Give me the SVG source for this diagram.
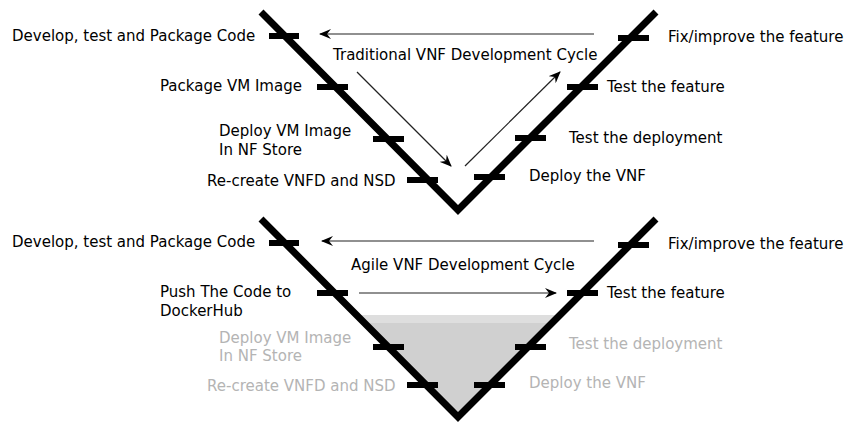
<svg xmlns="http://www.w3.org/2000/svg" width="845" height="422" viewBox="0 0 845 422">
<defs>
<marker id="ah" viewBox="0 0 12 10" refX="11" refY="5" markerWidth="12" markerHeight="10" markerUnits="userSpaceOnUse" orient="auto">
<path d="M0,0 L12,5 L0,10 L4,5 Z" fill="#000"/>
</marker>
<style>
text{font-family:"DejaVu Sans",Verdana,sans-serif;font-size:15px;fill:#000}
.g{fill:#b4b4b4}
.v{fill:none;stroke:#000;stroke-width:7;stroke-linejoin:miter}
.t{stroke:#000;stroke-width:6;fill:none}
.a{stroke:#222;stroke-width:1.2;fill:none;marker-end:url(#ah)}
</style>
</defs>
<rect width="845" height="422" fill="#fff"/>
<g id="shade">
<polygon points="358,315 560,315 458,417" fill="#d0d0d0"/>
<polygon points="358,315 560,315 552,323 366,323" fill="#dedede"/>
</g>
<g id="traditional">
<polyline class="v" points="261,12 458,210 656,12"/>
<g class="t">
<line x1="269" y1="36" x2="299" y2="36"/>
<line x1="317" y1="87" x2="348" y2="87"/>
<line x1="373" y1="139" x2="404" y2="139"/>
<line x1="407" y1="180" x2="438" y2="180"/>
<line x1="618" y1="38" x2="649" y2="38"/>
<line x1="567" y1="87" x2="598" y2="87"/>
<line x1="515" y1="138" x2="546" y2="138"/>
<line x1="474" y1="177" x2="505" y2="177"/>
</g>
</g>
<g id="agile">
<polyline class="v" points="261,219 458,417 656,219"/>
<g class="t">
<line x1="269" y1="243" x2="299" y2="243"/>
<line x1="317" y1="293" x2="348" y2="293"/>
<line x1="373" y1="347" x2="404" y2="347"/>
<line x1="407" y1="385" x2="438" y2="385"/>
<line x1="618" y1="245" x2="649" y2="245"/>
<line x1="567" y1="293" x2="598" y2="293"/>
<line x1="515" y1="347" x2="546" y2="347"/>
<line x1="474" y1="385" x2="505" y2="385"/>
</g>
</g>
<g id="connectors">
<line class="a" x1="594" y1="34" x2="320" y2="34"/>
<line class="a" x1="357" y1="72" x2="451" y2="166"/>
<line class="a" x1="465" y1="166" x2="560" y2="72"/>
<line class="a" x1="594" y1="241" x2="322" y2="241"/>
<line class="a" x1="359" y1="293" x2="556" y2="293"/>
</g>
<g id="labels-top">
<text x="12" y="41">Develop, test and Package Code</text>
<text x="333" y="60">Traditional VNF Development Cycle</text>
<text x="160" y="91">Package VM Image</text>
<text x="219" y="136">Deploy VM Image</text>
<text x="219" y="155">In NF Store</text>
<text x="207" y="186">Re-create VNFD and NSD</text>
<text x="668" y="42">Fix/improve the feature</text>
<text x="607" y="92">Test the feature</text>
<text x="569" y="143">Test the deployment</text>
<text x="529" y="181">Deploy the VNF</text>
</g>
<g id="labels-bottom">
<text x="12" y="247">Develop, test and Package Code</text>
<text x="351" y="270">Agile VNF Development Cycle</text>
<text x="160" y="297">Push The Code to</text>
<text x="160" y="316">DockerHub</text>
<text class="g" x="219" y="343">Deploy VM Image</text>
<text class="g" x="219" y="361">In NF Store</text>
<text class="g" x="207" y="391">Re-create VNFD and NSD</text>
<text x="668" y="249">Fix/improve the feature</text>
<text x="607" y="298">Test the feature</text>
<text class="g" x="569" y="349">Test the deployment</text>
<text class="g" x="529" y="388">Deploy the VNF</text>
</g>
</svg>
